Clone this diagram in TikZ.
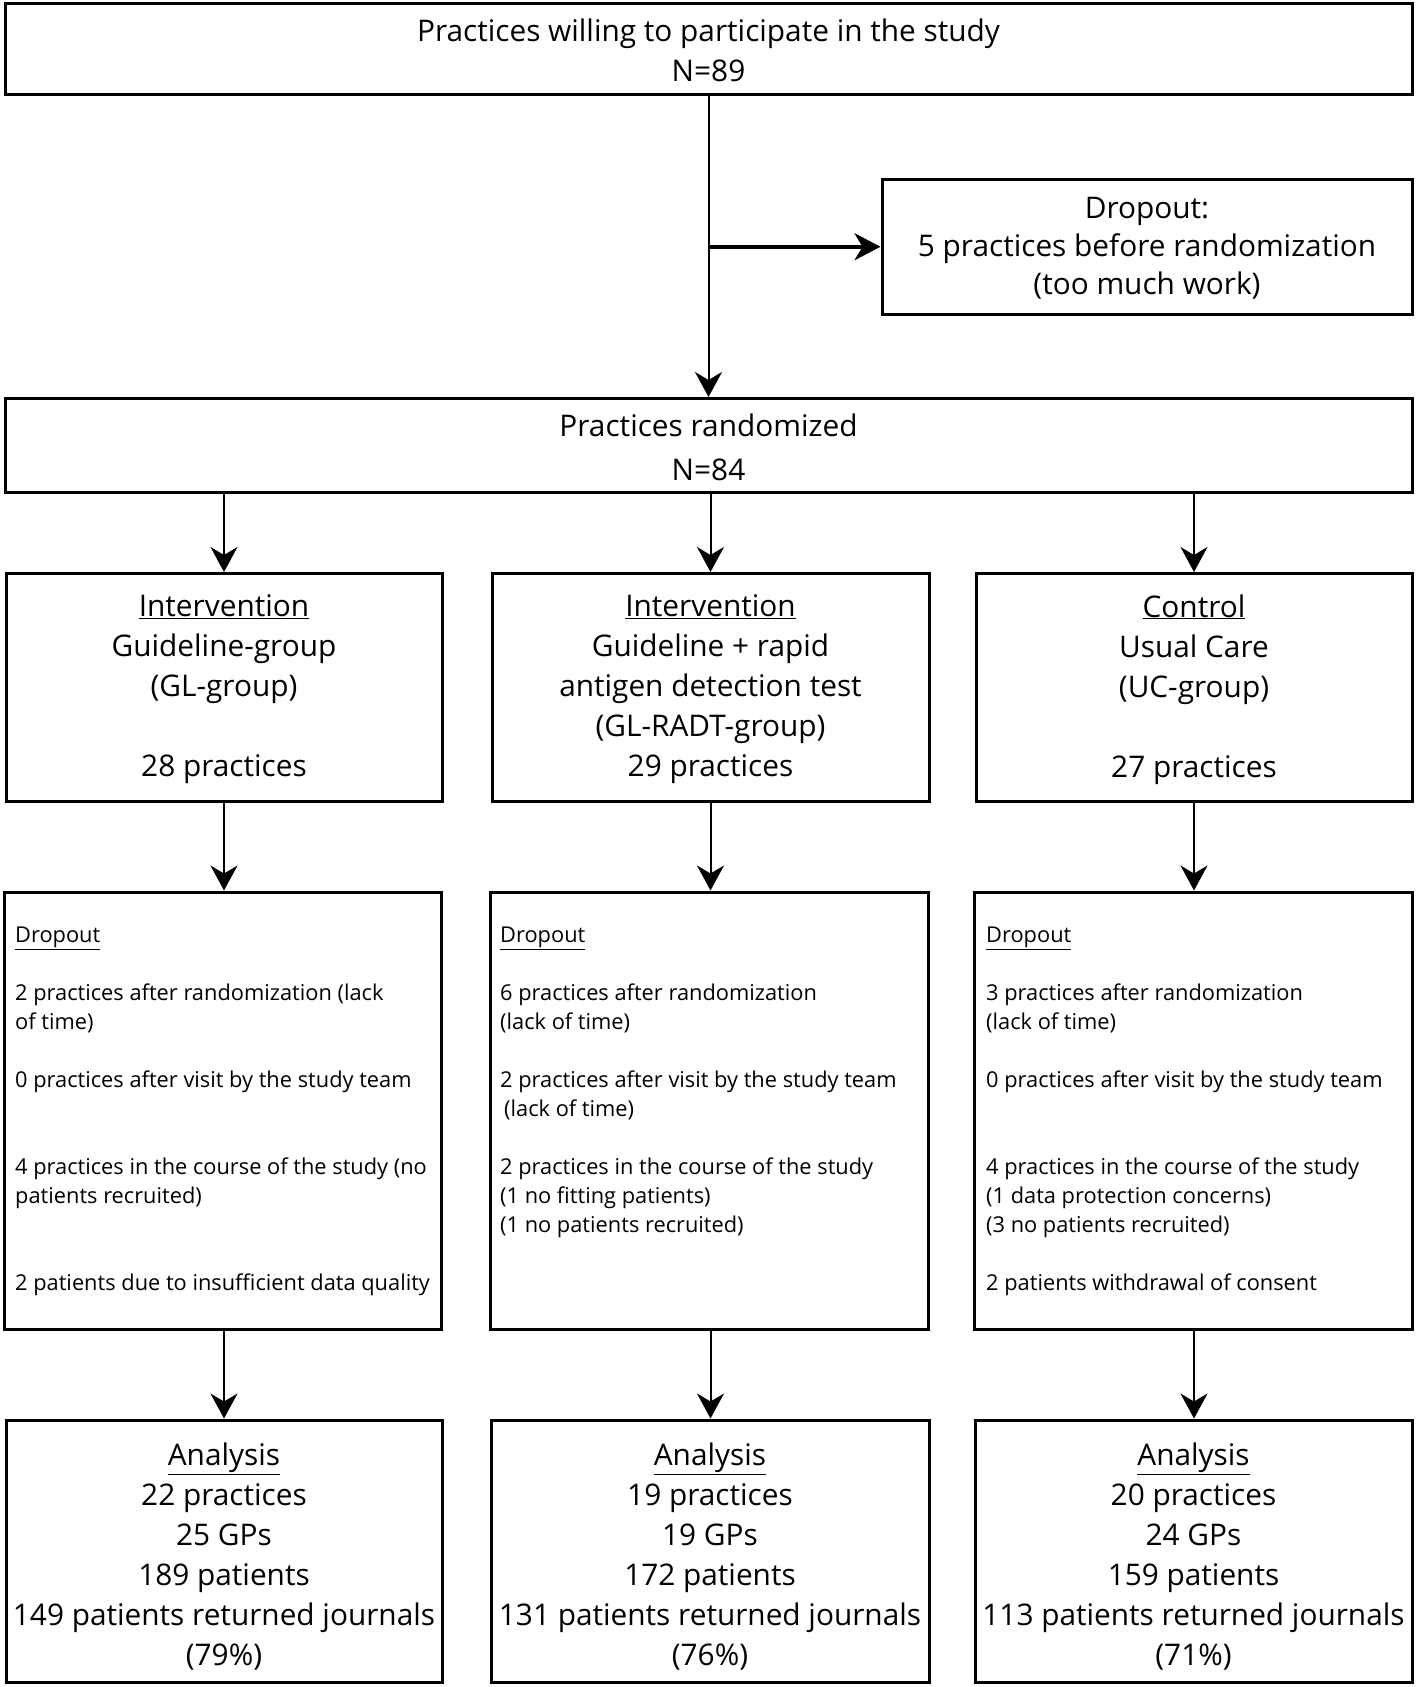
\documentclass[tikz,border=0pt]{standalone}
\usepackage{fontspec}
\setmainfont{Open Sans}
\usetikzlibrary{arrows.meta}
\begin{document}
\begin{tikzpicture}[x=1pt,y=-1pt,
  box/.style={draw, line width=3pt, inner sep=0pt},
  conn/.style={line width=2pt, -{Stealth[length=25pt,width=27pt,inset=8pt]}},
  connthick/.style={line width=3.5pt, -{Stealth[length=26pt,width=27pt,inset=8pt]}},
  main/.style={font=\fontsize{29.8}{40}\selectfont, align=center, inner sep=0pt},
  small/.style={font=\fontsize{21.8}{29}\selectfont, align=left, inner sep=0pt, anchor=north west},
]
\useasboundingbox (0,0) rectangle (1416,1687);
\fill[white] (0,0) rectangle (1416,1687);

% top row
\node[box, minimum width=1407pt, minimum height=90.5pt] (top) at (708.5,48.75) {};
\node[main] (topt) at ([yshift=-2pt]top.center)
  {Practices willing to participate in the study\\N=89};
\node[box, minimum width=530pt, minimum height=134.5pt] (drop) at (1147,246.75) {};
\node[main, font=\fontsize{29.8}{38}\selectfont] (dropt) at ([yshift=-1pt]drop.center)
  {Dropout:\\5 practices before randomization\\(too much work)};
\node[box, minimum width=1407pt, minimum height=93.5pt] (rand) at (708.5,445.25) {};
\node[main] (randt) at ([yshift=-2pt]rand.center)
  {Practices randomized\\[4pt]N=84};

% groups
\node[box, minimum width=436pt, minimum height=227.5pt] (g1) at (224,687.25) {};
\node[box, minimum width=437pt, minimum height=227.5pt] (g2) at (710.5,687.25) {};
\node[box, minimum width=436pt, minimum height=227.5pt] (g3) at (1194,687.25) {};
\node[main] (g1t) at ([yshift=-2pt]g1.center)
  {\underline{Intervention}\\Guideline-group\\(GL-group)\\[40pt]28 practices};
\node[main] (g2t) at ([yshift=-2pt]g2.center)
  {\underline{Intervention}\\Guideline + rapid\\antigen detection test\\(GL-RADT-group)\\29 practices};
\node[main] (g3t) at ([yshift=-2pt]g3.center)
  {\underline{Control}\\Usual Care\\(UC-group)\\[40pt]27 practices};

% dropout boxes
\node[box, minimum width=437pt, minimum height=437pt] (d1) at (222.5,1110.5) {};
\node[box, minimum width=438pt, minimum height=437pt] (d2) at (709,1110.5) {};
\node[box, minimum width=438pt, minimum height=437pt] (d3) at (1193,1110.5) {};

\node[small] (t1) at (15,927)
  {\underline{Dropout}\\[29pt]2 practices after randomization (lack\\of time)\\[29pt]0 practices after visit by the study team\\[58pt]4 practices in the course of the study (no\\patients recruited)\\[58pt]2 patients due to insufficient data quality};
\node[small] (t2) at (500,927)
  {\underline{Dropout}\\[29pt]6 practices after randomization\\(lack of time)\\[29pt]2 practices after visit by the study team\\\hspace*{4pt}(lack of time)\\[29pt]2 practices in the course of the study\\(1 no fitting patients)\\(1 no patients recruited)};
\node[small] (t3) at (986,927)
  {\underline{Dropout}\\[29pt]3 practices after randomization\\(lack of time)\\[29pt]0 practices after visit by the study team\\[58pt]4 practices in the course of the study\\(1 data protection concerns)\\(3 no patients recruited)\\[29pt]2 patients withdrawal of consent};

% analysis boxes
\node[box, minimum width=436pt, minimum height=262pt] (a1) at (224,1551) {};
\node[box, minimum width=438pt, minimum height=262pt] (a2) at (710,1551) {};
\node[box, minimum width=437pt, minimum height=262pt] (a3) at (1193.5,1551) {};
\node[main] (a1t) at ([yshift=-6pt]a1.center)
  {\underline{Analysis}\\22 practices\\25 GPs\\189 patients\\149 patients returned journals\\(79\%)};
\node[main] (a2t) at ([yshift=-6pt]a2.center)
  {\underline{Analysis}\\19 practices\\19 GPs\\172 patients\\131 patients returned journals\\(76\%)};
\node[main] (a3t) at ([yshift=-6pt]a3.center)
  {\underline{Analysis}\\20 practices\\24 GPs\\159 patients\\113 patients returned journals\\(71\%)};

% connectors
\draw[conn] (top.south) -- (rand.north);
\draw[connthick] (top.south |- drop.west) -- (drop.west);
\draw[conn] (rand.south -| g1.north) -- (g1.north);
\draw[conn] (rand.south -| g2.north) -- (g2.north);
\draw[conn] (rand.south -| g3.north) -- (g3.north);
\draw[conn] (g1.south) -- (d1.north -| g1.south);
\draw[conn] (g2.south) -- (d2.north -| g2.south);
\draw[conn] (g3.south) -- (d3.north -| g3.south);
\draw[conn] (d1.south -| g1.south) -- (a1.north -| g1.south);
\draw[conn] (d2.south -| g2.south) -- (a2.north -| g2.south);
\draw[conn] (d3.south -| g3.south) -- (a3.north -| g3.south);
\end{tikzpicture}
\end{document}
